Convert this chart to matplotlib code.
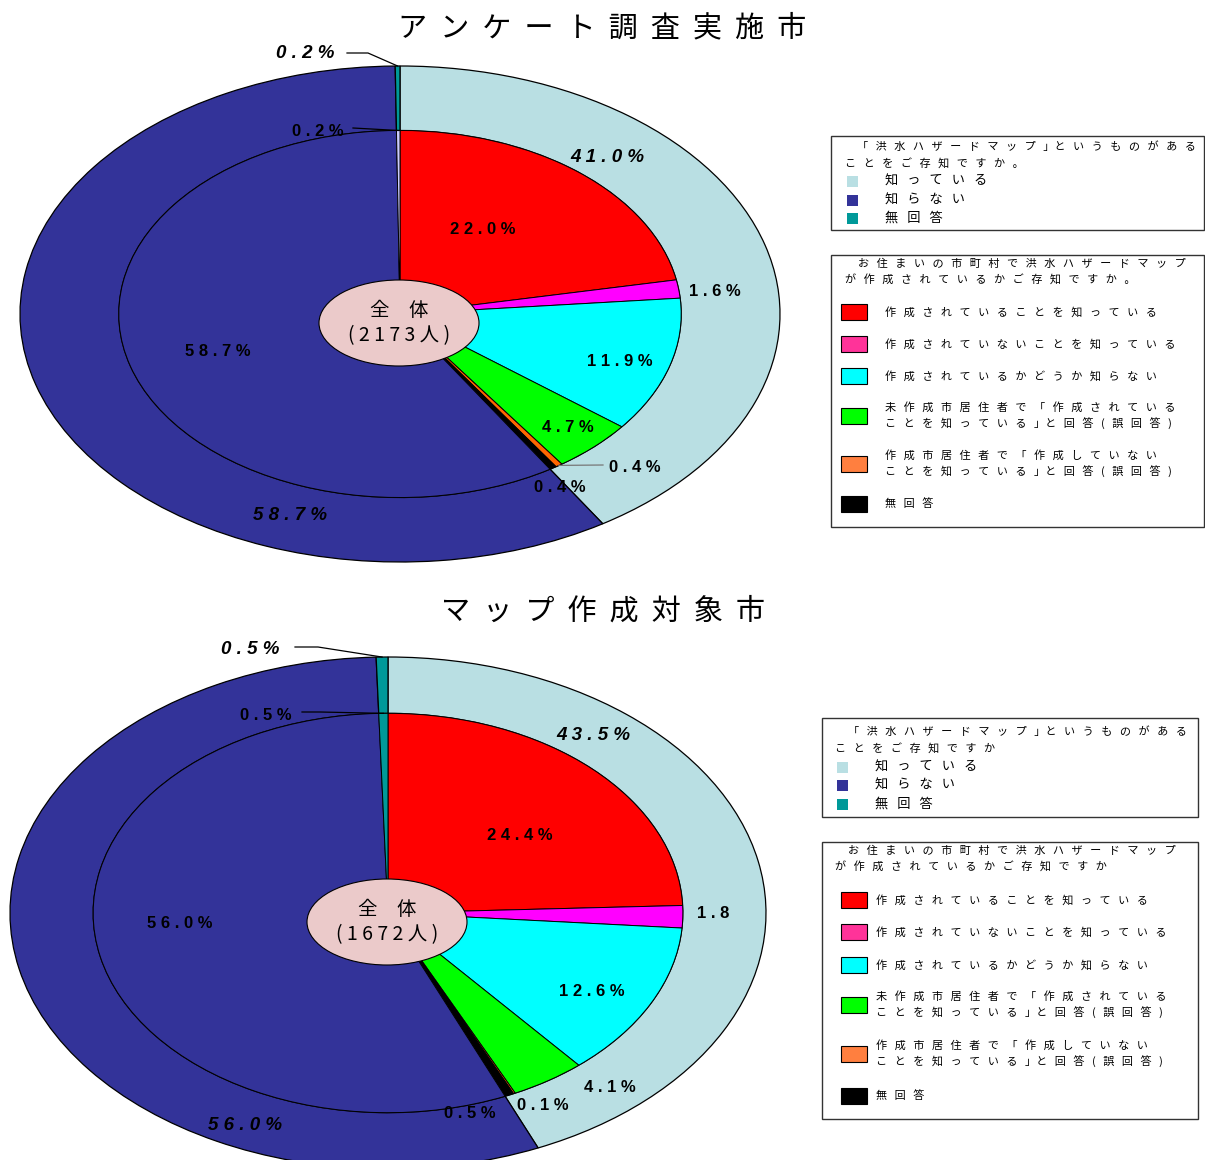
import matplotlib
matplotlib.use('Agg')
import matplotlib.pyplot as plt
import numpy as np
from matplotlib.patches import Ellipse, Rectangle

plt.rcParams['font.family'] = ['Noto Sans CJK JP', 'DejaVu Sans']

W, H = 1205, 1160

# ---- data ----
titles = ['アンケート調査実施市', 'マップ作成対象市']
respondents = [2173, 1672]

outer_names = ['知っている', '知らない', '無回答']
inner_names = ['作成されていることを知っている',
               '作成されていないことを知っている',
               '作成されているかどうか知らない',
               '未作成市居住者で「作成されている\nことを知っている」と回答(誤回答)',
               '作成市居住者で「作成していない\nことを知っている」と回答(誤回答)',
               '無回答']

outer_survey = [41.0, 58.7, 0.2]
inner_survey = [22.0, 1.6, 11.9, 4.7, 0.4, 0.4, 58.7, 0.2]
outer_target = [43.5, 56.0, 0.5]
inner_target = [24.4, 1.8, 12.6, 4.1, 0.1, 0.5, 56.0, 0.5]

q1_text = ['「洪水ハザードマップ」というものがある', 'ことをご存知ですか。']
q2_text = ['お住まいの市町村で洪水ハザードマップ', 'が作成されているかご存知ですか。']

# ---- styles ----
outer_colors = ['#b9dfe3', '#333399', '#009999']
inner_colors_survey = ['#ff0000', '#ff00ff', '#00ffff', '#00ff00', '#ff6600',
                       '#000000', '#333399', '#ccccff']
inner_colors_target = ['#ff0000', '#ff00ff', '#00ffff', '#00ff00', '#ff6600',
                       '#000000', '#333399', '#009999']
legend_colors = ['#ff0000', '#ff3399', '#00ffff', '#00ff00', '#ff7f3f', '#000000']
NUM = ['Liberation Sans', 'DejaVu Sans']


def sp(s, gap=' '):
    # spread characters out, keeping "」" tight to what follows
    out = []
    for line in s.split('\n'):
        buf = ''
        for k, ch in enumerate(line):
            buf += ch
            if k < len(line) - 1 and ch != '」':
                buf += gap
        out.append(buf)
    return '\n'.join(out)


fig = plt.figure(figsize=(W / 100, H / 100), dpi=100)


def draw_pie(cx, cy, hx, hy, ratio, outer, inner, inner_cols, people):
    ax = fig.add_axes([(cx - hx) / W, (H - cy - hy) / H, 2 * hx / W, 2 * hy / H])
    ow, _ = ax.pie(outer, radius=1, colors=outer_colors, startangle=90,
                   counterclock=False,
                   wedgeprops=dict(width=1 - ratio, edgecolor='black',
                                   linewidth=0.9, clip_on=False))
    iw, _ = ax.pie(inner, radius=ratio, colors=inner_cols, startangle=90,
                   counterclock=False,
                   wedgeprops=dict(edgecolor='black', linewidth=0.7,
                                   clip_on=False))
    ax.set_xlim(-1, 1)
    ax.set_ylim(-1, 1)
    ax.set_aspect('auto')
    ax.axis('off')
    ax.add_patch(Ellipse((-1 / hx, -9 / hy), 160 / hx, 86 / hy,
                         facecolor='#ebcaca', edgecolor='black',
                         linewidth=0.8, zorder=5, clip_on=False))
    ax.text(-1 / hx, -9 / hy, '全\u3000体\n' + sp('(%d人)' % people),
            ha='center', va='center', fontsize=14, linespacing=1.25,
            zorder=6)
    return ow, iw


def anchor(w, cx, cy, hx, hy):
    t = np.deg2rad((w.theta1 + w.theta2) / 2)
    return cx + hx * w.r * np.cos(t), cy - hy * w.r * np.sin(t)


# pie layouts: centre, half axes, inner ratio
layouts = [(400, 314, 380, 248, 0.74), (388, 913, 378, 256, 0.78)]
outers = [outer_survey, outer_target]
inners = [inner_survey, inner_target]
inner_cols = [inner_colors_survey, inner_colors_target]

wedges = []
for i in range(2):
    cx, cy, hx, hy, r = layouts[i]
    wedges.append(draw_pie(cx, cy, hx, hy, r, outers[i], inners[i],
                           inner_cols[i], respondents[i]))

ov = fig.add_axes([0, 0, 1, 1])
ov.set_xlim(0, W)
ov.set_ylim(H, 0)
ov.axis('off')

# titles
ov.text(602, 28, sp(titles[0], '  '), ha='center', va='center', fontsize=21)
ov.text(603, 612, sp(titles[1], '  '), ha='center', va='center', fontsize=21)

# label placement (pixel positions of the label centres)
outer_pos = [[(607, 158), (290, 516), (305, 54)],
             [(593, 736), (245, 1126), (250, 650)]]
inner_pos = [[(483, 230), (715, 291), (620, 361), (568, 428), (635, 467),
              (560, 487), (218, 352), (318, 131)],
             [(520, 836), (713, 913), (592, 991), (610, 1087), (543, 1105),
              (470, 1113), (180, 923), (266, 715)]]
# leader lines: (ring, index, points from label side)
leaders = [[('o', 2, [(347, 53), (368, 53)], 'black'),
            ('i', 7, [(353, 128)], 'black'),
            ('i', 4, [(603, 465)], '#777777')],
           [('o', 2, [(295, 647), (318, 647)], 'black'),
            ('i', 7, [(302, 712), (320, 712)], 'black')]]

for i in range(2):
    cx, cy, hx, hy, r = layouts[i]
    ow, iw = wedges[i]
    for v, (x, y) in zip(outers[i], outer_pos[i]):
        ov.text(x, y, sp('%.1f%%' % v), ha='center', va='center', fontsize=13.5,
                family=NUM, weight='bold', style='italic')
    texts = ['%.1f%%' % v for v in inners[i]]
    if i == 1:
        texts[1] = '%.1f' % inners[i][1]
    for t, (x, y) in zip(texts, inner_pos[i]):
        ov.text(x, y, sp(t), ha='center', va='center', fontsize=12,
                family=NUM, weight='bold')
    for ring, k, pts, col in leaders[i]:
        w = ow[k] if ring == 'o' else iw[k]
        ax_, ay_ = anchor(w, cx, cy, hx, hy)
        xs = [p[0] for p in pts] + [ax_]
        ys = [p[1] for p in pts] + [ay_]
        ov.plot(xs, ys, color=col, lw=0.9)


GAP = '   '


def draw_legends(box1, box2, t1, t2, e1, e2, sw1x, tx1, sw2x, tx2, q1, q2):
    # box1: outer ring legend
    x0, y0, x1, y1 = box1
    ov.add_patch(Rectangle((x0, y0), x1 - x0, y1 - y0, fill=False,
                           edgecolor='#333333', lw=1))
    ov.text(t1[0][0], t1[0][1], sp(q1[0], GAP), fontsize=8, va='center')
    ov.text(t1[1][0], t1[1][1], sp(q1[1], GAP), fontsize=8, va='center')
    for name, col, y in zip(outer_names, outer_colors, e1):
        ov.add_patch(Rectangle((sw1x, y - 5.5), 11, 11, facecolor=col,
                               edgecolor='none'))
        ov.text(tx1, y, sp(name, GAP), fontsize=9.5, va='center')
    # box2: inner pie legend
    x0, y0, x1, y1 = box2
    ov.add_patch(Rectangle((x0, y0), x1 - x0, y1 - y0, fill=False,
                           edgecolor='#333333', lw=1))
    ov.text(t2[0][0], t2[0][1], sp(q2[0], GAP), fontsize=8, va='center')
    ov.text(t2[1][0], t2[1][1], sp(q2[1], GAP), fontsize=8, va='center')
    for name, col, y in zip(inner_names, legend_colors, e2):
        ov.add_patch(Rectangle((sw2x, y - 8), 26, 16, facecolor=col,
                               edgecolor='black', lw=0.8))
        ov.text(tx2, y, sp(name, GAP), fontsize=8, va='center', linespacing=1.45)


draw_legends((831, 136, 1204, 230), (831, 255, 1204, 527),
             [(857, 147), (845, 163)], [(858, 264), (845, 280)],
             [181, 200, 218], [312, 344, 376, 416, 464, 504],
             847, 885, 841, 885, q1_text, q2_text)
draw_legends((822, 718, 1198, 817), (822, 842, 1198, 1119),
             [(848, 732), (835, 748)], [(848, 851), (835, 867)],
             [767, 785, 804], [900, 932, 965, 1005, 1054, 1096],
             837, 875, 841, 876,
             [q1_text[0], q1_text[1].rstrip('。')],
             [q2_text[0], q2_text[1].rstrip('。')])

fig.savefig('out.png', dpi=100)
